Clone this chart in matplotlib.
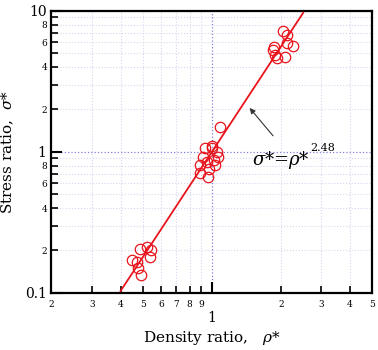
import matplotlib
matplotlib.use("Agg")
import matplotlib.pyplot as plt
import numpy as np
from matplotlib.ticker import FixedLocator, FixedFormatter

# measured density ratio / stress ratio pairs (three clusters)
rho = [0.447, 0.471, 0.485, 0.520, 0.541, 0.536, 0.491, 0.478,
       1.084, 0.933, 0.997, 1.048, 1.062, 0.914, 0.956, 1.020, 0.887, 1.030,
       0.961, 0.887, 0.975, 1.005,
       2.04, 2.12, 2.12, 2.25, 1.844, 1.88, 2.08, 1.92, 1.86]
sigma = [0.171, 0.166, 0.205, 0.212, 0.202, 0.181, 0.134, 0.150,
         1.49, 1.068, 1.068, 1.005, 0.926, 0.926, 0.853, 0.878, 0.809, 0.809,
         0.668, 0.710, 0.760, 1.110,
         7.21, 6.76, 5.90, 5.65, 5.29, 4.87, 4.74, 4.62, 5.55]

FIT_EXP = 2.48
FIT_RANGE = [0.4, 2.5]

x_minor = [0.2, 0.3, 0.4, 0.5, 0.6, 0.7, 0.8, 0.9, 2, 3, 4, 5]
x_minor_lbl = ["2", "3", "4", "5", "6", "7", "8", "9", "2", "3", "4", "5"]
y_minor = [0.2, 0.3, 0.4, 0.5, 0.6, 0.7, 0.8, 0.9, 2, 3, 4, 5, 6, 7, 8, 9]
y_minor_lbl = ["2", "", "4", "", "6", "", "8", "", "2", "", "4", "", "6", "", "8", ""]

plt.rcParams["font.family"] = ["DejaVu Serif"]
plt.rcParams["mathtext.fontset"] = "dejavuserif"

fig = plt.figure(figsize=(3.78, 3.5), dpi=100)
ax = fig.add_axes([0.136, 0.163, 0.849, 0.806])
ax.set_xscale("log")
ax.set_yscale("log")
ax.set_xlim(0.2, 5)
ax.set_ylim(0.1, 10)

# grid
ax.grid(which="minor", color="#d6d6ee", linestyle=":", linewidth=0.8)
ax.grid(which="major", color="#8080e0", linestyle=":", linewidth=0.9)
ax.set_axisbelow(True)

xf = np.array(FIT_RANGE)
ax.plot(xf, xf ** FIT_EXP, color="#e8141c", lw=1.3, zorder=3)
ax.plot(rho, sigma, "o", mfc="none", mec="#e8141c", mew=0.9, ms=7.5, zorder=4)

# ticks
ax.xaxis.set_major_locator(FixedLocator([1]))
ax.xaxis.set_major_formatter(FixedFormatter(["1"]))
ax.xaxis.set_minor_locator(FixedLocator(x_minor))
ax.xaxis.set_minor_formatter(FixedFormatter(x_minor_lbl))
ax.yaxis.set_major_locator(FixedLocator([0.1, 1, 10]))
ax.yaxis.set_major_formatter(FixedFormatter(["0.1", "1", "10"]))
ax.yaxis.set_minor_locator(FixedLocator(y_minor))
ax.yaxis.set_minor_formatter(FixedFormatter(y_minor_lbl))

ax.tick_params(which="major", direction="in", length=8, width=1.5,
               labelsize=10, top=False, right=False)
ax.tick_params(which="minor", direction="in", length=5, width=1.2,
               labelsize=6.5, top=False, right=False)
ax.tick_params(axis="x", which="major", pad=13)
ax.tick_params(axis="x", which="minor", pad=5)
ax.tick_params(axis="y", which="minor", pad=3)
for s in ax.spines.values():
    s.set_linewidth(1.6)

ax.set_xlabel("Density ratio,   $\\rho$*", fontsize=11, labelpad=3)
ax.set_ylabel("Stress ratio,  $\\sigma$*", fontsize=11, labelpad=6)

ax.annotate("", xy=(1.435, 2.12), xytext=(1.88, 1.257),
            arrowprops=dict(arrowstyle="-|>", color="#333333", lw=0.8,
                            mutation_scale=8), zorder=5)
ax.text(1.49, 0.878, "$\\sigma$*=$\\rho$*", fontsize=13, va="center", ha="left")
ax.text(2.67, 1.06, "2.48", fontsize=8, va="center", ha="left")

fig.savefig("out.png", dpi=100)
